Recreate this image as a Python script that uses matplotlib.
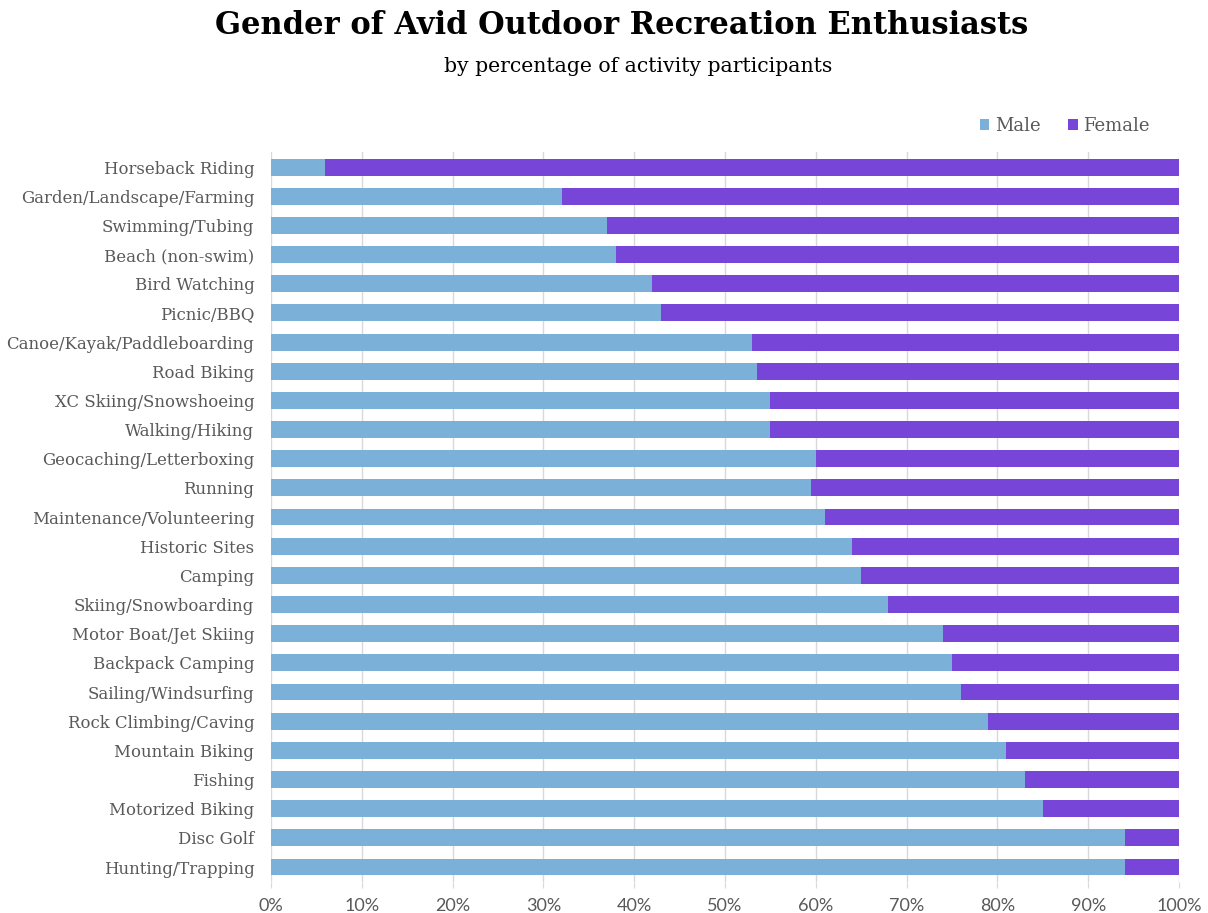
import matplotlib
matplotlib.use("Agg")
import matplotlib.pyplot as plt
from matplotlib.ticker import FuncFormatter, MultipleLocator

activities = [
    "Horseback Riding", "Garden/Landscape/Farming", "Swimming/Tubing",
    "Beach (non-swim)", "Bird Watching", "Picnic/BBQ",
    "Canoe/Kayak/Paddleboarding", "Road Biking", "XC Skiing/Snowshoeing",
    "Walking/Hiking", "Geocaching/Letterboxing", "Running",
    "Maintenance/Volunteering", "Historic Sites", "Camping",
    "Skiing/Snowboarding", "Motor Boat/Jet Skiing", "Backpack Camping",
    "Sailing/Windsurfing", "Rock Climbing/Caving", "Mountain Biking",
    "Fishing", "Motorized Biking", "Disc Golf", "Hunting/Trapping",
]
male_pct = [6, 32, 37, 38, 42, 43, 53, 53.5, 55, 55, 60, 59.5, 61, 64, 65,
            68, 74, 75, 76, 79, 81, 83, 85, 94, 94]
female_pct = [100 - m for m in male_pct]

MALE_COLOR = "#7bb0d8"
FEMALE_COLOR = "#7746d9"
TEXT_GRAY = "#595959"
SERIF = ["DejaVu Serif"]
SANS = ["Lato", "DejaVu Sans"]

fig = plt.figure(figsize=(12.08, 9.13), dpi=100)
ax = fig.add_axes([0.2243, 0.0344, 0.7517, 0.7986])

y = list(range(len(activities)))
ax.barh(y, male_pct, height=0.58, color=MALE_COLOR, label="Male", zorder=3)
ax.barh(y, female_pct, left=male_pct, height=0.58, color=FEMALE_COLOR,
        label="Female", zorder=3)

ax.set_xlim(0, 100)
ax.set_ylim(len(activities) - 0.5, -0.5)
ax.set_yticks(y)
ax.set_yticklabels(activities, fontsize=11.9, color=TEXT_GRAY, family=SERIF)
ax.xaxis.set_major_locator(MultipleLocator(10))
ax.xaxis.set_major_formatter(FuncFormatter(lambda v, _: f"{int(v)}%"))
for lbl in ax.get_xticklabels():
    lbl.set_fontsize(13)
    lbl.set_color(TEXT_GRAY)
    lbl.set_family(SANS)
ax.tick_params(axis="x", length=4, color="#d9d9d9", pad=8)
ax.tick_params(axis="y", length=0, pad=12)
ax.grid(axis="x", color="#d9d9d9", linewidth=1, zorder=0)
for s in ax.spines.values():
    s.set_visible(False)

fig.text(0.515, 0.972, "Gender of Avid Outdoor Recreation Enthusiasts",
         ha="center", va="center", fontsize=22, fontweight="bold",
         color="black", family=SERIF)
fig.text(0.528, 0.927, "by percentage of activity participants",
         ha="center", va="center", fontsize=14.7, color="black", family=SERIF)

leg = fig.legend(loc="center right", bbox_to_anchor=(0.965, 0.862), ncol=2,
                 frameon=False, handlelength=0.55, handleheight=0.55,
                 handletextpad=0.3, columnspacing=1.5,
                 prop={"family": SERIF, "size": 13})
for t in leg.get_texts():
    t.set_color(TEXT_GRAY)

fig.savefig("out.png", dpi=100, facecolor="white")
